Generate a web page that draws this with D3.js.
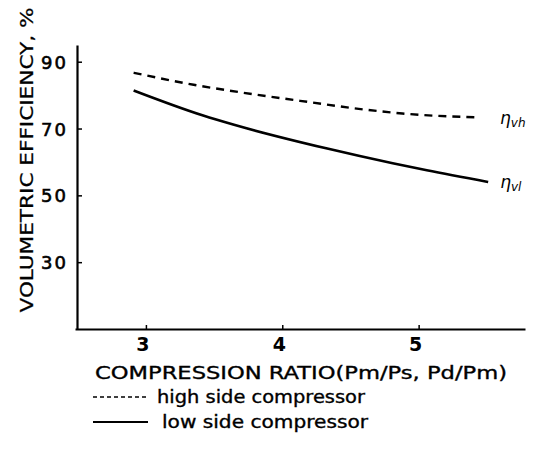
<!DOCTYPE html>
<html><head><meta charset="utf-8">
<script src="https://cdn.jsdelivr.net/npm/d3@7"></script>
<style>body{margin:0;background:#fff}svg{display:block}text{font-family:"DejaVu Sans",sans-serif;fill:#000}</style>
</head><body>
<svg id="c" width="539" height="454"></svg>
<script>
const xTicks = [3, 4, 5];
const yTicks = [30, 50, 70, 90];
const highX = [2.91, 3.35, 3.7, 4.2, 4.6, 4.88, 5.45];
const highY = [86.7, 83.1, 80.8, 77.9, 75.7, 74.5, 73.3];
const lowX = [2.91, 3.42, 3.64, 4.33, 4.81, 5.06, 5.51];
const lowY = [81.4, 73.9, 71.2, 64.0, 59.6, 57.5, 54.0];
const xTitle = "COMPRESSION RATIO(Pm/Ps, Pd/Pm)";
const yTitle = "VOLUMETRIC EFFICIENCY, %";
const legendLabels = ["high side compressor", "low side compressor"];

const svg = d3.select("#c");
const x = d3.scaleLinear().domain([2.48, 5.78]).range([75, 525]);
const y = d3.scaleLinear().domain([10, 95]).range([329, 45]);

// axes
const xa = svg.append("g").attr("transform", `translate(0,${y(10)})`)
  .call(d3.axisTop(x).tickValues(xTicks).tickSize(4).tickSizeOuter(0).tickFormat(""));
xa.select(".domain").attr("stroke-width", 2.2);
xa.selectAll(".tick line").attr("stroke-width", 1.5);
const ya = svg.append("g").attr("transform", `translate(${x(2.48)+2},0)`)
  .call(d3.axisRight(y).tickValues(yTicks).tickSize(5).tickSizeOuter(0).tickFormat(""));
ya.select(".domain").attr("stroke-width", 2.2);
ya.selectAll(".tick line").attr("stroke-width", 1.5);

// tick labels
svg.append("g").selectAll("text").data(xTicks).join("text")
  .attr("x", d => x(d) - 3).attr("y", 351).attr("text-anchor", "middle")
  .attr("font-size", 19).attr("font-weight", "bold").text(d => d);
svg.append("g").selectAll("text").data(yTicks).join("text")
  .attr("x", 68).attr("y", d => y(d) + 7).attr("text-anchor", "end")
  .attr("font-size", 18).attr("letter-spacing", 2).attr("stroke", "#000").attr("stroke-width", 0.6).text(d => d);

// titles
svg.append("text").attr("x", 301).attr("y", 379).attr("text-anchor", "middle")
  .attr("font-size", 17).attr("stroke", "#000").attr("stroke-width", 0.35)
  .attr("textLength", 412).attr("lengthAdjust", "spacingAndGlyphs").text(xTitle);
svg.append("text").attr("transform", "translate(33,160) rotate(-90)").attr("text-anchor", "middle")
  .attr("font-size", 17).attr("stroke", "#000").attr("stroke-width", 0.25)
  .attr("textLength", 305).attr("lengthAdjust", "spacingAndGlyphs").text(yTitle);

// lines
const line = d3.line().x(d => x(d[0])).y(d => y(d[1])).curve(d3.curveMonotoneX);
svg.append("path").datum(d3.zip(highX, highY)).attr("d", line)
  .attr("fill", "none").attr("stroke", "#000").attr("stroke-width", 2.4).attr("stroke-dasharray", "8,6");
svg.append("path").datum(d3.zip(lowX, lowY)).attr("d", line)
  .attr("fill", "none").attr("stroke", "#000").attr("stroke-width", 2.6);

// curve labels
function eta(px, py, sub) {
  const t = svg.append("text").attr("x", px).attr("y", py)
    .attr("font-family", "DejaVu Serif").attr("font-style", "italic").attr("font-size", 17);
  t.append("tspan").text("η");
  t.append("tspan").attr("font-size", 12).attr("dy", 3).text(sub);
}
eta(x(5.45) + 20, y(73.3) + 6, "vh");
eta(x(5.51) + 12, y(54.0) + 6, "vl");

// legend
const lg = svg.append("g");
[0, 1].forEach(i => {
  const ly = 397 + i * 25;
  lg.append("line").attr("x1", 93).attr("x2", 148).attr("y1", ly).attr("y2", ly)
    .attr("stroke", "#000").attr("stroke-width", i ? 2 : 1.6).attr("stroke-dasharray", i ? null : "4,3");
  lg.append("text").attr("x", i ? 162 : 157).attr("y", ly + 6).attr("font-size", 17)
    .attr("stroke", "#000").attr("stroke-width", 0.35)
    .attr("textLength", i ? 206 : 208).attr("lengthAdjust", "spacingAndGlyphs").text(legendLabels[i]);
});
</script>
</body></html>
